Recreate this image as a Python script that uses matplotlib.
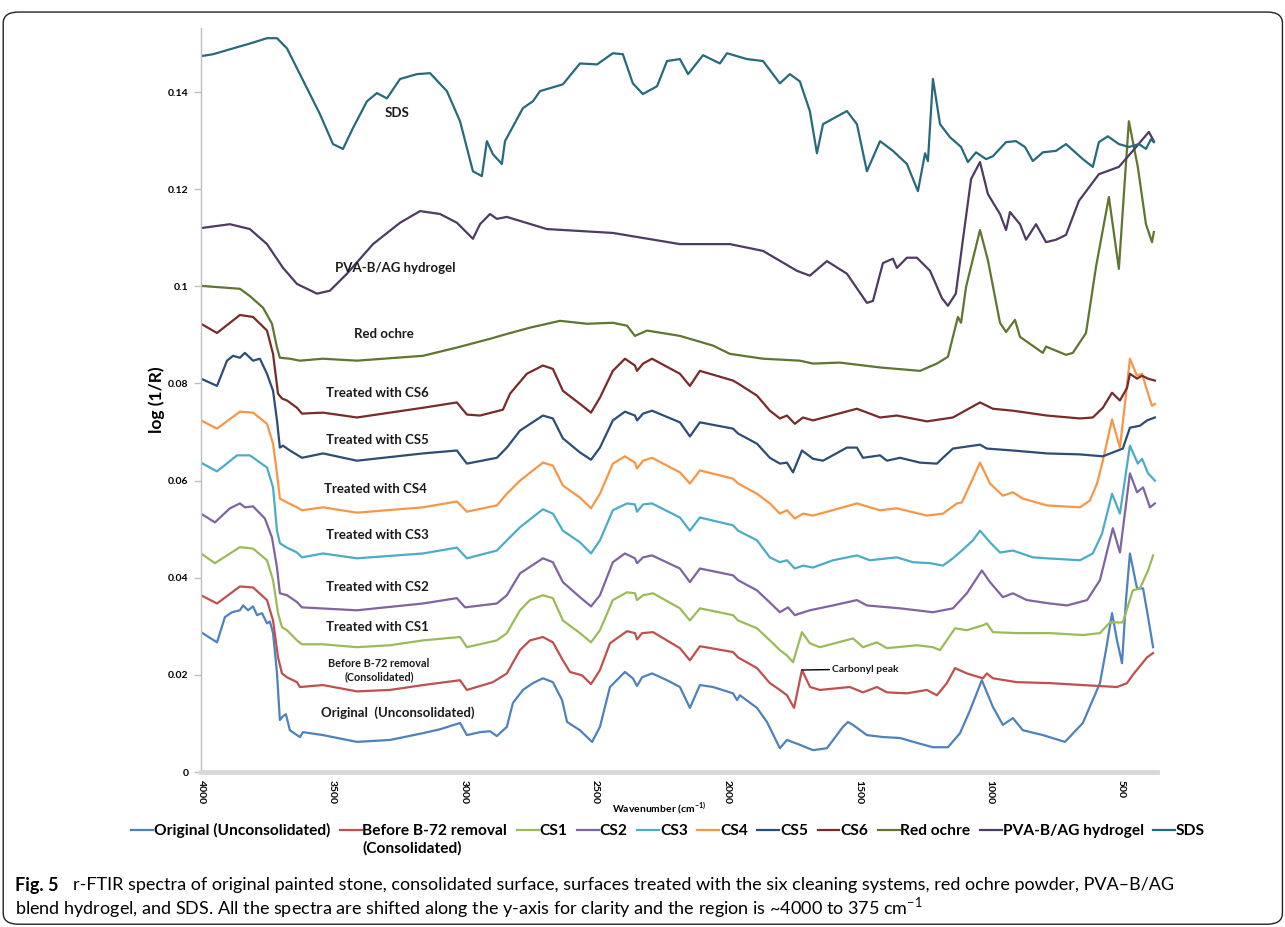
import matplotlib
matplotlib.use('Agg')
import matplotlib.pyplot as plt
from matplotlib.patches import FancyBboxPatch
from matplotlib.ticker import FuncFormatter

# r-FTIR spectra, log(1/R) against wavenumber (cm-1), each spectrum shifted up

wn_orig = [4000, 3939, 3909, 3882, 3852, 3840, 3821, 3802, 3787, 3768, 3749, 3738, 3726, 3711, 3700, 3688,
           3677, 3662, 3624, 3612, 3536, 3407, 3281, 3156, 3091, 3015, 2989, 2939, 2901, 2875, 2837, 2814,
           2776, 2738, 2700, 2662, 2627, 2608, 2559, 2513, 2483, 2445, 2388, 2358, 2342, 2323, 2285, 2228,
           2179, 2141, 2103, 2053, 1977, 1962, 1951, 1886, 1848, 1799, 1772, 1723, 1673, 1620, 1559, 1540,
           1521, 1468, 1407, 1342, 1278, 1217, 1160, 1114, 1076, 1031, 989, 951, 913, 875, 799, 715, 647,
           582, 559, 536, 517, 498, 483, 468, 441, 418, 399, 380]
orig = [0.0288, 0.0267, 0.0319, 0.0329, 0.0333, 0.0343, 0.0333, 0.0341, 0.0323, 0.0327, 0.0306, 0.031,
        0.0286, 0.0204, 0.0107, 0.0115, 0.0119, 0.0086, 0.0072, 0.0082, 0.0076, 0.0062, 0.0066, 0.008,
        0.0088, 0.0101, 0.0076, 0.0082, 0.0084, 0.0074, 0.0093, 0.0142, 0.0169, 0.0183, 0.0193, 0.0185,
        0.0148, 0.0103, 0.0086, 0.0062, 0.0093, 0.0175, 0.0206, 0.0193, 0.0177, 0.0195, 0.0203, 0.0189,
        0.0175, 0.0132, 0.0179, 0.0175, 0.0162, 0.0148, 0.0158, 0.0132, 0.0103, 0.0049, 0.0066, 0.0056,
        0.0045, 0.0049, 0.0093, 0.0103, 0.0097, 0.0076, 0.0072, 0.007, 0.006, 0.0051, 0.0051, 0.008,
        0.0127, 0.0189, 0.0134, 0.0097, 0.0111, 0.0086, 0.0076, 0.0062, 0.0101, 0.0183, 0.0251, 0.0327,
        0.0271, 0.0224, 0.0354, 0.045, 0.0378, 0.0378, 0.0319, 0.0257]

wn_b72 = [4000, 3939, 3852, 3802, 3749, 3726, 3707, 3692, 3673, 3635, 3624, 3536, 3407, 3281, 3156, 3015,
          2989, 2890, 2837, 2787, 2749, 2700, 2662, 2624, 2597, 2551, 2517, 2483, 2445, 2380, 2350, 2342,
          2323, 2281, 2179, 2141, 2103, 1977, 1958, 1886, 1837, 1799, 1772, 1745, 1715, 1684, 1647, 1533,
          1483, 1430, 1392, 1316, 1240, 1202, 1164, 1133, 1088, 1027, 1012, 989, 898, 772, 647, 517, 479,
          457, 403, 380]
b72 = [0.0364, 0.0347, 0.0382, 0.038, 0.0354, 0.0312, 0.0236, 0.0203, 0.0195, 0.0185, 0.0175, 0.0179,
       0.0166, 0.0169, 0.0179, 0.0189, 0.0169, 0.0185, 0.0203, 0.0251, 0.0271, 0.0278, 0.0267, 0.023,
       0.0206, 0.0199, 0.0181, 0.021, 0.0265, 0.029, 0.0286, 0.0273, 0.0286, 0.0288, 0.0255, 0.023,
       0.0259, 0.0247, 0.0236, 0.0214, 0.0183, 0.0169, 0.0158, 0.0132, 0.021, 0.0175, 0.0169, 0.0175,
       0.0164, 0.0175, 0.0164, 0.0162, 0.0169, 0.0158, 0.0183, 0.0214, 0.0203, 0.0193, 0.0203, 0.0193,
       0.0185, 0.0183, 0.0179, 0.0175, 0.0183, 0.02, 0.0236, 0.0245]

wn_cs1 = [4000, 3947, 3852, 3802, 3749, 3726, 3707, 3692, 3673, 3635, 3616, 3536, 3407, 3281, 3156, 3015,
          2989, 2875, 2837, 2787, 2749, 2700, 2662, 2624, 2559, 2517, 2483, 2434, 2380, 2350, 2342, 2319,
          2281, 2179, 2141, 2103, 1977, 1958, 1886, 1837, 1799, 1772, 1749, 1715, 1685, 1647, 1521, 1483,
          1430, 1392, 1278, 1217, 1190, 1133, 1088, 1027, 1012, 989, 898, 772, 647, 582, 544, 495, 457,
          430, 399, 380]
cs1 = [0.045, 0.043, 0.0463, 0.046, 0.0436, 0.0395, 0.0327, 0.0298, 0.0292, 0.0271, 0.0263, 0.0263,
       0.0257, 0.0261, 0.0271, 0.0278, 0.0257, 0.0271, 0.0286, 0.0333, 0.0354, 0.0364, 0.0358, 0.0312,
       0.0286, 0.0267, 0.0292, 0.0354, 0.037, 0.0368, 0.0354, 0.0364, 0.0368, 0.0337, 0.0312, 0.0337,
       0.0323, 0.0312, 0.0296, 0.0271, 0.0251, 0.024, 0.0226, 0.0288, 0.0265, 0.0257, 0.0275, 0.0257,
       0.0267, 0.0255, 0.0261, 0.0257, 0.0251, 0.0296, 0.0292, 0.0302, 0.0306, 0.0288, 0.0286, 0.0286,
       0.0282, 0.0286, 0.0308, 0.0308, 0.0374, 0.0378, 0.0415, 0.0446]

wn_cs2 = [4000, 3947, 3890, 3852, 3833, 3802, 3757, 3730, 3711, 3700, 3673, 3635, 3616, 3407, 3156, 3027,
          2996, 2875, 2837, 2787, 2700, 2662, 2624, 2559, 2517, 2483, 2434, 2388, 2350, 2342, 2319, 2285,
          2179, 2141, 2103, 1977, 1958, 1886, 1837, 1799, 1768, 1742, 1685, 1597, 1506, 1468, 1342, 1217,
          1141, 1088, 1031, 1000, 951, 913, 860, 772, 707, 631, 582, 533, 506, 468, 441, 418, 392, 373]
cs2 = [0.0532, 0.0514, 0.0543, 0.0553, 0.0545, 0.0547, 0.0522, 0.0483, 0.0421, 0.0368, 0.0364, 0.035,
       0.0339, 0.0333, 0.0347, 0.0358, 0.0339, 0.0347, 0.0364, 0.0409, 0.044, 0.0432, 0.0391, 0.036,
       0.0341, 0.0364, 0.0432, 0.045, 0.044, 0.043, 0.0442, 0.0446, 0.0419, 0.0391, 0.0419, 0.0405,
       0.0395, 0.0374, 0.0349, 0.0329, 0.0339, 0.0323, 0.0333, 0.0343, 0.0354, 0.0343, 0.0337, 0.0329,
       0.0337, 0.0368, 0.0415, 0.0391, 0.036, 0.0368, 0.0354, 0.0347, 0.0343, 0.0354, 0.0395, 0.0502,
       0.0452, 0.0615, 0.0576, 0.0586, 0.0545, 0.0553]

wn_cs3 = [4000, 3939, 3863, 3814, 3749, 3726, 3711, 3700, 3673, 3635, 3616, 3536, 3407, 3156, 3027, 2989,
          2875, 2837, 2787, 2700, 2662, 2624, 2559, 2517, 2483, 2434, 2380, 2350, 2342, 2319, 2285, 2179,
          2141, 2103, 1977, 1958, 1886, 1837, 1799, 1772, 1742, 1711, 1673, 1597, 1506, 1457, 1354, 1293,
          1228, 1179, 1141, 1107, 1065, 1038, 1000, 962, 913, 837, 784, 658, 609, 574, 536, 506, 468, 438,
          422, 399, 373]
cs3 = [0.0637, 0.0619, 0.0652, 0.0652, 0.0627, 0.0586, 0.0497, 0.0471, 0.0462, 0.0452, 0.0442, 0.045,
       0.044, 0.045, 0.0462, 0.044, 0.0456, 0.0477, 0.0504, 0.0541, 0.0532, 0.0497, 0.0473, 0.045,
       0.0477, 0.0539, 0.0553, 0.0551, 0.0536, 0.0551, 0.0553, 0.0524, 0.0497, 0.0524, 0.0508, 0.0497,
       0.0477, 0.0442, 0.0432, 0.0436, 0.0419, 0.0425, 0.0421, 0.0436, 0.0446, 0.0436, 0.0442, 0.0432,
       0.043, 0.0425, 0.044, 0.0456, 0.0477, 0.0497, 0.0473, 0.0452, 0.0456, 0.0442, 0.044, 0.0436,
       0.045, 0.0491, 0.0573, 0.0532, 0.0672, 0.0635, 0.0645, 0.0615, 0.06]

wn_cs4 = [4000, 3939, 3852, 3802, 3749, 3726, 3711, 3700, 3673, 3635, 3616, 3536, 3407, 3156, 3027, 2989,
          2875, 2837, 2787, 2700, 2662, 2624, 2559, 2517, 2483, 2434, 2388, 2350, 2342, 2319, 2285, 2179,
          2141, 2103, 1977, 1958, 1886, 1837, 1799, 1772, 1742, 1711, 1673, 1506, 1418, 1354, 1240, 1179,
          1126, 1107, 1069, 1038, 1000, 951, 913, 875, 784, 658, 620, 593, 571, 536, 506, 487, 468, 441,
          422, 399, 384, 373]
cs4 = [0.0724, 0.0707, 0.0742, 0.074, 0.0717, 0.0676, 0.0615, 0.0563, 0.0555, 0.0545, 0.0539, 0.0545,
       0.0534, 0.0545, 0.0557, 0.0536, 0.0549, 0.0573, 0.06, 0.0637, 0.0631, 0.059, 0.0565, 0.0543,
       0.0573, 0.0635, 0.065, 0.0637, 0.0625, 0.0641, 0.0647, 0.0617, 0.0594, 0.0621, 0.0604, 0.0594,
       0.0573, 0.0553, 0.0532, 0.0539, 0.0522, 0.0532, 0.0528, 0.0553, 0.0539, 0.0543, 0.0528, 0.0532,
       0.0553, 0.0555, 0.06, 0.0637, 0.0594, 0.0569, 0.0576, 0.0563, 0.0549, 0.0545, 0.0559, 0.0594,
       0.0641, 0.0726, 0.0668, 0.0758, 0.0851, 0.0816, 0.082, 0.0779, 0.0754, 0.0758]

wn_cs5 = [4000, 3939, 3901, 3878, 3852, 3833, 3802, 3776, 3749, 3726, 3711, 3700, 3688, 3662, 3616, 3536,
          3407, 3156, 3027, 2989, 2875, 2837, 2787, 2700, 2662, 2624, 2559, 2517, 2483, 2434, 2388, 2350,
          2342, 2319, 2285, 2179, 2141, 2103, 1977, 1958, 1886, 1837, 1799, 1772, 1749, 1715, 1673, 1635,
          1544, 1506, 1483, 1418, 1392, 1342, 1266, 1202, 1179, 1141, 1038, 1012, 913, 784, 658, 571, 533,
          495, 468, 430, 403, 373]
cs5 = [0.081, 0.0795, 0.0847, 0.0857, 0.0853, 0.0863, 0.0847, 0.0851, 0.082, 0.0785, 0.0724, 0.0668,
       0.0672, 0.0662, 0.0647, 0.0656, 0.0641, 0.0656, 0.0662, 0.0635, 0.0647, 0.0668, 0.0703, 0.0734,
       0.0728, 0.0687, 0.0658, 0.0643, 0.0668, 0.0724, 0.0742, 0.0734, 0.0724, 0.0738, 0.0744, 0.072,
       0.0691, 0.072, 0.0707, 0.0697, 0.0676, 0.0647, 0.0635, 0.0637, 0.0617, 0.0662, 0.0645, 0.0641,
       0.0668, 0.0668, 0.0647, 0.0652, 0.0641, 0.0647, 0.0637, 0.0635, 0.0647, 0.0666, 0.0674, 0.0666,
       0.0662, 0.0656, 0.0654, 0.065, 0.0658, 0.0666, 0.0709, 0.0713, 0.0724, 0.073]

wn_cs6 = [4000, 3939, 3852, 3802, 3749, 3726, 3707, 3692, 3673, 3635, 3616, 3536, 3407, 3156, 3027, 2989,
          2939, 2852, 2825, 2761, 2700, 2662, 2624, 2559, 2517, 2483, 2434, 2388, 2350, 2342, 2319, 2285,
          2179, 2141, 2103, 1977, 1958, 1886, 1837, 1799, 1772, 1742, 1711, 1673, 1506, 1418, 1354, 1240,
          1141, 1038, 989, 913, 784, 658, 609, 571, 536, 506, 479, 468, 441, 422, 399, 373]
cs6 = [0.0923, 0.0904, 0.0941, 0.0937, 0.0909, 0.0861, 0.0779, 0.0769, 0.0765, 0.075, 0.0738, 0.074,
       0.073, 0.075, 0.0761, 0.0736, 0.0734, 0.0746, 0.0779, 0.082, 0.0837, 0.083, 0.0785, 0.0758, 0.074,
       0.0771, 0.0826, 0.0851, 0.0837, 0.0826, 0.0841, 0.0851, 0.082, 0.0795, 0.0826, 0.0806, 0.08,
       0.0775, 0.0744, 0.0728, 0.0734, 0.0717, 0.073, 0.0724, 0.0748, 0.073, 0.0734, 0.0722, 0.073,
       0.0761, 0.0748, 0.0744, 0.0734, 0.0728, 0.073, 0.075, 0.0781, 0.0765, 0.0791, 0.082, 0.081,
       0.0816, 0.081, 0.0806]

wn_ochre = [4000, 3852, 3814, 3764, 3730, 3711, 3700, 3662, 3624, 3536, 3407, 3156, 3027, 2901, 2837, 2749,
            2635, 2532, 2434, 2380, 2350, 2304, 2179, 2053, 1989, 1863, 1723, 1673, 1571, 1418, 1266, 1202,
            1160, 1122, 1110, 1091, 1038, 1008, 962, 939, 905, 886, 799, 787, 711, 685, 635, 597, 548, 510,
            491, 472, 438, 407, 384, 377]
ochre = [0.1001, 0.0995, 0.098, 0.0956, 0.0923, 0.0874, 0.0853, 0.0851, 0.0847, 0.0851, 0.0847, 0.0857,
         0.0874, 0.0892, 0.0902, 0.0915, 0.0929, 0.0923, 0.0925, 0.0919, 0.0898, 0.0909, 0.0898, 0.0878,
         0.0861, 0.0851, 0.0847, 0.0841, 0.0843, 0.0833, 0.0826, 0.0841, 0.0855, 0.0937, 0.0925, 0.0999,
         0.1116, 0.1054, 0.0925, 0.0906, 0.0931, 0.0896, 0.0863, 0.0876, 0.0859, 0.0863, 0.0904, 0.104,
         0.1184, 0.1036, 0.119, 0.134, 0.1246, 0.1128, 0.1091, 0.1112]

wn_pva = [4000, 3890, 3814, 3749, 3688, 3635, 3559, 3510, 3445, 3346, 3243, 3167, 3091, 3027, 2966, 2939,
          2901, 2875, 2837, 2685, 2434, 2179, 1989, 1863, 1734, 1685, 1620, 1544, 1468, 1445, 1407, 1369,
          1354, 1316, 1278, 1228, 1183, 1160, 1130, 1103, 1072, 1038, 1008, 962, 939, 924, 886, 863, 825,
          787, 749, 711, 662, 586, 510, 457, 396, 377]
pva = [0.112, 0.1128, 0.1118, 0.1087, 0.1038, 0.1005, 0.0985, 0.0991, 0.1026, 0.1087, 0.1131, 0.1155,
       0.1149, 0.1131, 0.1098, 0.1128, 0.1149, 0.1139, 0.1143, 0.1118, 0.111, 0.1087, 0.1087, 0.1073,
       0.1032, 0.1022, 0.1052, 0.1026, 0.0966, 0.097, 0.1048, 0.1057, 0.1038, 0.1059, 0.1059, 0.1032,
       0.0976, 0.096, 0.0985, 0.1096, 0.1221, 0.1256, 0.119, 0.1149, 0.1116, 0.1153, 0.1128, 0.1096,
       0.1128, 0.1091, 0.1096, 0.1106, 0.1176, 0.1231, 0.1246, 0.1279, 0.1318, 0.1299]

wn_sds = [4000, 3954, 3878, 3814, 3749, 3711, 3673, 3635, 3597, 3548, 3498, 3460, 3422, 3369, 3331, 3293,
          3243, 3179, 3129, 3065, 3015, 2966, 2932, 2913, 2890, 2856, 2844, 2776, 2738, 2711, 2624, 2559,
          2494, 2434, 2396, 2358, 2320, 2266, 2228, 2179, 2148, 2091, 2027, 2000, 1924, 1863, 1799, 1761,
          1723, 1685, 1658, 1635, 1544, 1506, 1468, 1418, 1369, 1316, 1274, 1247, 1236, 1217, 1190, 1152,
          1110, 1084, 1053, 1015, 989, 939, 901, 867, 837, 799, 749, 711, 647, 609, 586, 552, 510, 472,
          434, 407, 388, 377]
sds = [0.1474, 0.1478, 0.149, 0.15, 0.1511, 0.1511, 0.149, 0.1449, 0.1408, 0.1355, 0.1293, 0.1283,
       0.1326, 0.1381, 0.1398, 0.1387, 0.1427, 0.1437, 0.1439, 0.1402, 0.134, 0.1237, 0.1227, 0.1299,
       0.1272, 0.1252, 0.1299, 0.1367, 0.1381, 0.1402, 0.1416, 0.1459, 0.1457, 0.148, 0.1478, 0.1418,
       0.1396, 0.1412, 0.1464, 0.1468, 0.1437, 0.1476, 0.1459, 0.148, 0.1468, 0.1464, 0.1418, 0.1437,
       0.1422, 0.1361, 0.1274, 0.1334, 0.1361, 0.1334, 0.1237, 0.1299, 0.1279, 0.1252, 0.1196, 0.1274,
       0.1258, 0.1427, 0.1334, 0.1307, 0.1287, 0.1256, 0.1276, 0.1262, 0.1268, 0.1297, 0.1299, 0.1287,
       0.1258, 0.1276, 0.1279, 0.1293, 0.1262, 0.1246, 0.1297, 0.1309, 0.1293, 0.1287, 0.1293, 0.1283,
       0.1303, 0.1297]

series = [
    ('Original (Unconsolidated)', wn_orig, orig, '#4F81BD'),
    ('Before B-72 removal', wn_b72, b72, '#C0504D'),
    ('CS1', wn_cs1, cs1, '#9BBB59'),
    ('CS2', wn_cs2, cs2, '#8064A2'),
    ('CS3', wn_cs3, cs3, '#4BACC6'),
    ('CS4', wn_cs4, cs4, '#F79646'),
    ('CS5', wn_cs5, cs5, '#2C4D75'),
    ('CS6', wn_cs6, cs6, '#772C2A'),
    ('Red ochre', wn_ochre, ochre, '#5F7530'),
    ('PVA-B/AG hydrogel', wn_pva, pva, '#4D3B62'),
    ('SDS', wn_sds, sds, '#276A7C'),
]

# labels written next to each spectrum: (text, wavenumber, value, size)
curve_labels = [
    ('SDS', 3255, 0.1357, 9.5),
    ('PVA-B/AG hydrogel', 3262, 0.1038, 9.5),
    ('Red ochre', 3304, 0.0902, 9.5),
    ('Treated with CS6', 3331, 0.0781, 9.5),
    ('Treated with CS5', 3331, 0.0684, 9.5),
    ('Treated with CS4', 3338, 0.0582, 9.5),
    ('Treated with CS3', 3331, 0.0487, 9.5),
    ('Treated with CS2', 3331, 0.0380, 9.5),
    ('Treated with CS1', 3331, 0.0298, 9.5),
    ('Before B-72 removal\n(Consolidated)', 3323, 0.0210, 7.8),
    ('Original  (Unconsolidated)', 3251, 0.0123, 9.5),
]

plt.rcParams['font.family'] = ['Lato', 'DejaVu Sans']

fig = plt.figure(figsize=(12.85, 9.27), dpi=100)
ax = fig.add_axes([0.1564, 0.1672, 0.9004 - 0.1564, 0.9698 - 0.1672])

for name, x, y, c in series:
    ax.plot(x, y, color=c, lw=1.6, label=name, solid_joinstyle='round')

for txt, x, y, s in curve_labels:
    ax.text(x, y, txt, ha='center', va='center', fontsize=s, fontweight='bold',
            color='#1a1a1a', linespacing=1.3)

ax.annotate('Carbonyl peak', xy=(1715, 0.0210), xytext=(1600, 0.0212),
            fontsize=7.5, fontweight='bold', va='center', color='#1a1a1a',
            arrowprops=dict(arrowstyle='-', color='black', lw=1.0, shrinkA=0, shrinkB=0))

ax.set_xlim(4000, 365)
ax.set_ylim(0, 0.1532)
ax.set_xticks([4000, 3500, 3000, 2500, 2000, 1500, 1000, 500])
ax.set_yticks([0, 0.02, 0.04, 0.06, 0.08, 0.1, 0.12, 0.14])
ax.yaxis.set_major_formatter(FuncFormatter(lambda v, p: '%g' % round(v, 2)))
for lab in ax.get_xticklabels():
    lab.set_rotation(-90)
ax.tick_params(axis='x', length=0, pad=6, labelsize=7.5)
ax.tick_params(axis='y', length=5, width=1, color='#BFBFBF', pad=4, labelsize=7.5)
for lab in ax.get_xticklabels() + ax.get_yticklabels():
    lab.set_fontweight('bold')

ax.spines['top'].set_visible(False)
ax.spines['right'].set_visible(False)
ax.spines['left'].set_color('#BFBFBF')
ax.spines['left'].set_linewidth(1.0)
ax.spines['bottom'].set_color('#D9D9D9')
ax.spines['bottom'].set_linewidth(3.5)

ax.set_ylabel('log (1/R)', fontsize=12.5, fontweight='bold', labelpad=2)
fig.text(0.513, 0.128, r'Wavenumber (cm$^{\mathregular{-1)}}$', ha='center', va='center',
         fontsize=7.5, fontweight='bold')

leg = fig.legend(loc='upper center', bbox_to_anchor=(0.52, 0.1205), ncol=11, frameon=False,
                 handlelength=1.4, handletextpad=0.05, columnspacing=0.62, borderpad=0,
                 prop={'weight': 'bold', 'size': 11.2})
for h in leg.legend_handles:
    h.set_linewidth(1.6)

# second line of the consolidated entry, placed under its legend text
fig.canvas.draw()
bb = leg.get_texts()[1].get_window_extent().transformed(fig.transFigure.inverted())
fig.text(bb.x0, bb.y0 - 0.003, '(Consolidated)', ha='left', va='top', fontsize=11.2, fontweight='bold')

# rounded frame around figure and caption
frame = FancyBboxPatch((0.0025, 0.003), 0.9955, 0.984, boxstyle='round,pad=0,rounding_size=0.012',
                       transform=fig.transFigure, fill=False, ec='#222222', lw=1.0)
fig.patches.append(frame)

cap_font = ['Liberation Sans Narrow', 'Lato', 'DejaVu Sans']
fig.text(0.0117, 0.045, 'Fig. 5', fontsize=13, fontweight='bold', family=cap_font, va='center')
fig.text(0.0565, 0.045, 'r-FTIR spectra of original painted stone, consolidated surface, surfaces treated with '
         'the six cleaning systems, red ochre powder, PVA\u2013B/AG',
         fontsize=13, family=cap_font, va='center')
fig.text(0.0117, 0.021, 'blend hydrogel, and SDS. All the spectra are shifted along the y-axis for clarity '
         'and the region is ~4000 to 375 cm$^{\\mathregular{-1}}$',
         fontsize=13, family=cap_font, va='center')

fig.savefig('out.png', dpi=100)
